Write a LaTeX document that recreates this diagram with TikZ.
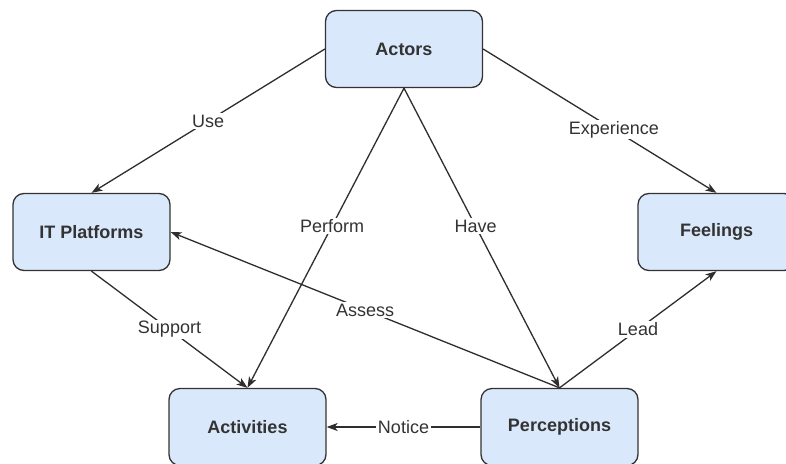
\documentclass[tikz,border=0pt]{standalone}
\usepackage{fontspec}
\setmainfont{Liberation Sans}
\usetikzlibrary{arrows.meta}
\definecolor{boxfill}{HTML}{DAE8FC}
\definecolor{ink}{HTML}{333333}
\tikzset{
	concept/.style={draw=ink, fill=boxfill, rounded corners=11pt, line width=1.3pt, minimum width=157pt, minimum height=77pt, font=\fontsize{18}{21}\selectfont\bfseries},
	rel/.style={draw=ink!90!black, line width=1.3pt, -{Stealth[length=11pt, width=8pt, inset=3pt]}},
	tag/.style={fill=white, inner sep=1.5pt, text=ink, font=\fontsize{18}{21}\selectfont}
}
\begin{document}
\begin{tikzpicture}[x=1pt, y=-1pt, every node/.append style={text=ink}]
	\useasboundingbox (0,0) rectangle (786,463);
	\clip (0,0) rectangle (786,463);
	\fill[white] (0,0) rectangle (786,463);
	
	\node[concept] (actors) at (404,49) {Actors};
	\node[concept] (platforms) at (91.5,232) {IT Platforms};
	\node[concept] (feelings) at (716.5,232) {Feelings};
	\node[concept] (activities) at (247.5,427) {Activities};
	\node[concept] (perceptions) at (559.5,427) {Perceptions};
	
	\draw[rel] (actors.west) -- (platforms.north) node[tag, pos=0.5] {Use};
	\draw[rel] (actors.east) -- (feelings.north) node[tag, pos=0.56] {Experience};
	\draw[rel] (actors.south) -- (activities.north) node[tag, pos=0.46] {Perform};
	\draw[rel] (actors.south) -- (perceptions.north) node[tag, pos=0.46] {Have};
	
	\draw[rel] (platforms.south) -- (activities.north) node[tag, pos=0.5] {Support};
	\draw[rel] (perceptions.north) -- (platforms.east) node[tag, pos=0.5] {Assess};
	\draw[rel] (perceptions.north) -- (feelings.south) node[tag, pos=0.5] {Lead};
	\draw[rel] (perceptions.west) -- (activities.east) node[tag, pos=0.5] {Notice};
\end{tikzpicture}
\end{document}
